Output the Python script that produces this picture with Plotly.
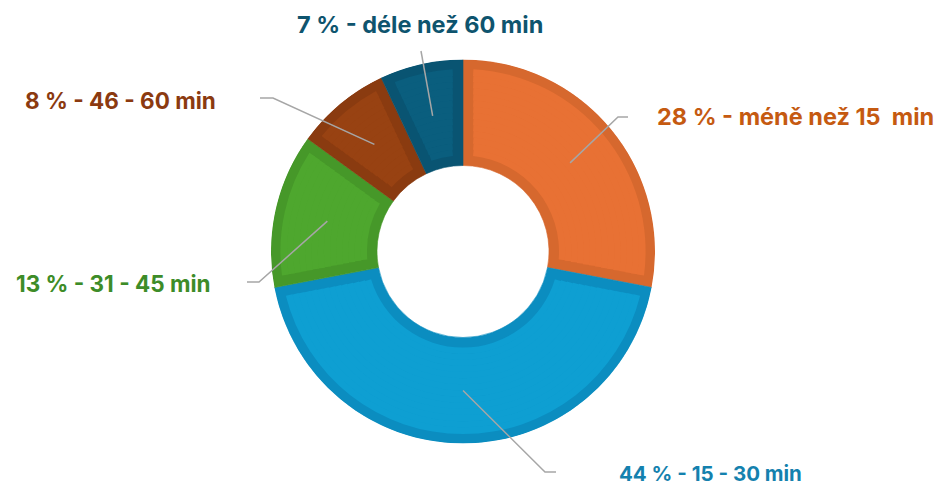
import math
import plotly.graph_objects as go

# ---- data ----
categories = ["méně než 15  min", "15 - 30 min", "31 - 45 min", "46 - 60 min", "déle než 60 min"]
values = [28, 44, 13, 8, 7]

# ---- styles ----
fill_colors = ["#E87134", "#0E9FD2", "#4EA72E", "#984212", "#0A5E7E"]
edge_colors = ["#D6682E", "#0B8DC0", "#469829", "#8A3B10", "#095472"]
text_colors = ["#C55A11", "#1481AE", "#3D8C28", "#8B3A10", "#0E546E"]
font_sizes = [23.5, 20.5, 22.5, 22.5, 23.5]

W, H = 945, 489
CX, CY = 463, 251.5       # ring centre in px
R_OUT = 192               # visible outer radius
R_IN = 86                 # visible hole radius
BAND = 10                 # inset border width
R_ANCHOR = 139            # where leader lines start
N_SEG = 14                # radial pieces for the inset fill

def px(x, y):
    return x / W, 1 - y / H

x0, y1 = px(CX - R_OUT, CY - R_OUT)
x1, y0 = px(CX + R_OUT, CY + R_OUT)
dom = dict(x=[x0, x1], y=[y0, y1])

total = sum(values)
starts, spans = [], []
cum = 0
for v in values:
    starts.append(cum / total * 360)
    spans.append(v / total * 360)
    cum += v

fig = go.Figure()
# base ring: darker border colour, one wedge per value
fig.add_trace(go.Barpolar(
    theta=[s + w / 2 for s, w in zip(starts, spans)],
    width=spans,
    base=[R_IN] * len(values),
    r=[R_OUT - R_IN] * len(values),
    marker=dict(color=edge_colors, line=dict(width=0.6, color=edge_colors)),
    customdata=[f"{v} % - {c}" for v, c in zip(values, categories)],
    hovertemplate="%{customdata}<extra></extra>",
    showlegend=False,
))

# inset lighter fill of each slice (derived from the same values)
r_lo, r_hi = R_IN + BAND, R_OUT - BAND
seg_edges = [r_lo + (r_hi - r_lo) * k / N_SEG for k in range(N_SEG + 1)]
thetas, widths, bases, lengths, cols = [], [], [], [], []
for s, w, c in zip(starts, spans, fill_colors):
    for k in range(N_SEG):
        ra, rb = seg_edges[k], seg_edges[k + 1]
        d = math.degrees(math.asin(BAND / ra))
        thetas.append(s + w / 2)
        widths.append(w - 2 * d)
        bases.append(ra)
        lengths.append(rb - ra + 0.6)
        cols.append(c)
fig.add_trace(go.Barpolar(
    theta=thetas, r=lengths, base=bases, width=widths,
    marker=dict(color=cols, line=dict(width=0)),
    hoverinfo="skip", showlegend=False,
))

# label layout (px): text anchor, xanchor, elbow points
label_layout = [
    dict(pos=(655, 117), xanchor="left", path=[(618, 117), (628, 117)]),
    dict(pos=(617, 473), xanchor="left", path=[(545, 472), (556, 472)]),
    dict(pos=(213, 283), xanchor="right", path=[(259, 282), (247, 282)]),
    dict(pos=(218, 100), xanchor="right", path=[(273, 98), (260, 98)]),
    dict(pos=(420, 24), xanchor="center", path=[(421, 51)]),
]

shapes = []
annotations = []
for i, (cat, v) in enumerate(zip(categories, values)):
    mid = math.radians(starts[i] + spans[i] / 2)
    ax = CX + R_ANCHOR * math.sin(mid)
    ay = CY - R_ANCHOR * math.cos(mid)
    pts = [(ax, ay)] + label_layout[i]["path"]
    d = ""
    for j, (x, y) in enumerate(pts):
        pxx, pyy = px(x, y)
        d += ("M" if j == 0 else " L") + f" {pxx:.5f} {pyy:.5f}"
    shapes.append(dict(type="path", path=d, xref="paper", yref="paper",
                       line=dict(color="#A6A6A6", width=1.5), layer="above"))
    lx, ly = px(*label_layout[i]["pos"])
    annotations.append(dict(
        x=lx, y=ly, xref="paper", yref="paper",
        text=f"<b>{v} % - {cat}</b>", showarrow=False,
        xanchor=label_layout[i]["xanchor"], yanchor="middle",
        font=dict(family="Inter", size=font_sizes[i], color=text_colors[i]),
    ))

fig.update_layout(
    width=W, height=H,
    margin=dict(l=0, r=0, t=0, b=0),
    paper_bgcolor="white",
    plot_bgcolor="white",
    polar=dict(
        domain=dom,
        bgcolor="rgba(0,0,0,0)",
        barmode="overlay",
        radialaxis=dict(range=[0, R_OUT], visible=False, showgrid=False),
        angularaxis=dict(direction="clockwise", rotation=90, visible=False,
                         showgrid=False, showline=False),
    ),
    shapes=shapes,
    annotations=annotations,
)

fig.write_html("out.html", config={"displayModeBar": False},
               post_script="document.body.style.margin='0px';")
